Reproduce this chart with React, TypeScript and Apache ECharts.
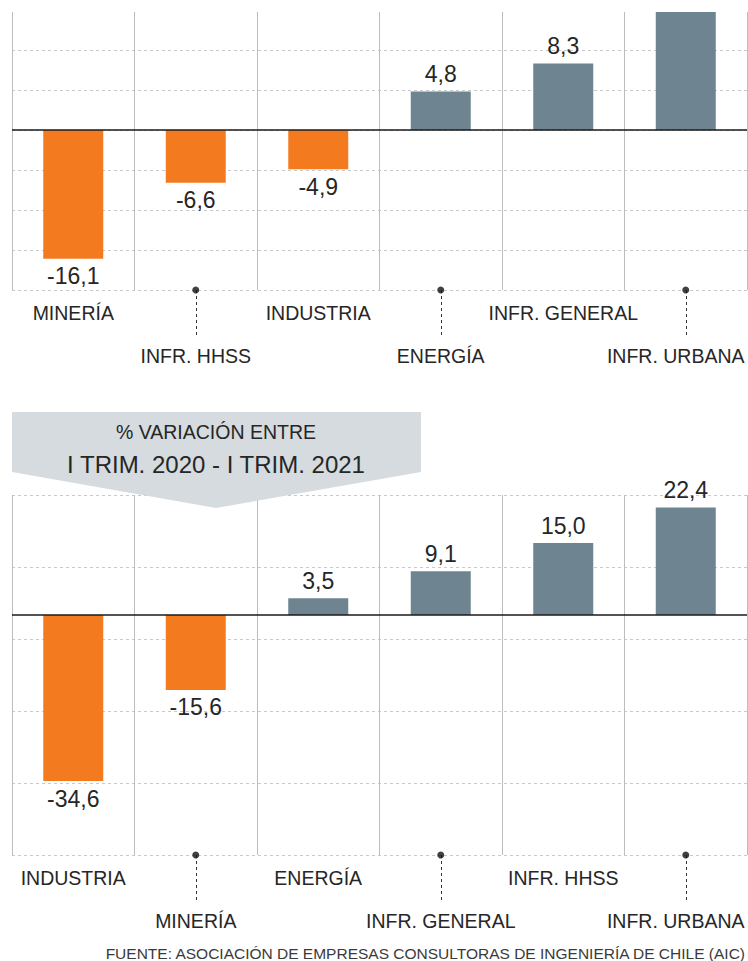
import React, { useEffect, useRef } from "react";
import * as echarts from "echarts";

const topCategories = ["MINERÍA", "INFR. HHSS", "INDUSTRIA", "ENERGÍA", "INFR. GENERAL", "INFR. URBANA"];
const topValues = [-16.1, -6.6, -4.9, 4.8, 8.3, 16.0];
const bottomCategories = ["INDUSTRIA", "MINERÍA", "ENERGÍA", "INFR. GENERAL", "INFR. HHSS", "INFR. URBANA"];
const bottomValues = [-34.6, -15.6, 3.5, 9.1, 15.0, 22.4];

const titleLine1 = "% VARIACIÓN ENTRE";
const titleLine2 = "I TRIM. 2020 - I TRIM. 2021";
const sourceText = "FUENTE: ASOCIACIÓN DE EMPRESAS CONSULTORAS DE INGENIERÍA DE CHILE (AIC)";

const TOP_MIN = -20;
const TOP_MAX = 14.75;
const BOT_MIN = -50;
const BOT_MAX = 25;

const ORANGE = "#F47A20";
const SLATE = "#6E8591";
const FONT = "'Liberation Sans', Arial, sans-serif";
const TEXT = "#262626";

function fmt(v: number) {
  return v.toFixed(1).replace(".", ",");
}

function barData(values: number[], max: number) {
  return values.map((v) => ({
    value: v,
    itemStyle: { color: v < 0 ? ORANGE : SLATE },
    label: { position: v < 0 ? "bottom" : "top", show: v <= max },
  }));
}

const catText = { fontSize: 19.5, fontFamily: FONT, color: TEXT, lineHeight: 22 };

function xAxisCfg(gridIndex: number, cats: string[]) {
  const last = cats.length - 1;
  return {
    type: "category",
    gridIndex,
    data: cats,
    boundaryGap: true,
    position: "bottom",
    axisLine: { show: false, onZero: false },
    axisTick: {
      show: true,
      alignWithLabel: true,
      interval: (i: number) => i % 2 === 1,
      length: 46,
      lineStyle: { type: [3, 3], color: "#333", width: 1 },
    },
    axisLabel: {
      interval: 0,
      margin: 12,
      ...catText,
      hideOverlap: false,
      formatter: (v: string, i: number) => {
        if (i === last) return "{c|" + v + "}";
        return i % 2 === 1 ? "{b|" + v + "}" : "{a|" + v + "}";
      },
      rich: {
        a: { ...catText },
        b: { ...catText, padding: [86, 0, 0, 0] },
        c: { ...catText, padding: [86, 20, 0, 0] },
      },
    },
    splitLine: { show: true, interval: 0, lineStyle: { color: "#bdbdbd", width: 1, type: "solid" } },
  };
}

const gridLineColor = "#c9c9c9";

export default function App() {
  const ref = useRef<HTMLDivElement>(null);
  useEffect(() => {
    if (!ref.current) return;
    const chart = echarts.init(ref.current, null, { renderer: "svg" });
    const labelCfg = {
      show: true,
      fontSize: 23,
      fontFamily: FONT,
      color: TEXT,
      distance: 6,
      formatter: (p: any) => fmt(p.value),
    };
    const zeroLine = {
      silent: true,
      symbol: ["none", "none"],
      label: { show: false },
      lineStyle: { color: "#1a1a1a", width: 1.5, type: "solid" },
      data: [{ yAxis: 0 }],
    };
    chart.setOption({
      animation: false,
      backgroundColor: "#ffffff",
      grid: [
        { left: 12, top: 12, width: 735, height: 278, outerBoundsMode: "none", containLabel: false },
        { left: 12, top: 495, width: 735, height: 360, outerBoundsMode: "none", containLabel: false },
      ],
      xAxis: [xAxisCfg(0, topCategories), xAxisCfg(1, bottomCategories)],
      yAxis: [
        {
          type: "value",
          gridIndex: 0,
          min: TOP_MIN,
          max: TOP_MAX,
          interval: 5,
          axisLabel: { show: false },
          axisLine: { show: false },
          axisTick: { show: false },
          splitLine: {
            show: true,
            showMaxLine: false,
            lineStyle: {
              type: [3, 3],
              color: [gridLineColor, gridLineColor, gridLineColor, gridLineColor, gridLineColor, gridLineColor, gridLineColor, "rgba(0,0,0,0)"],
            },
          },
        },
        {
          type: "value",
          gridIndex: 1,
          min: BOT_MIN,
          max: BOT_MAX,
          axisLabel: { show: false },
          axisLine: { show: false },
          axisTick: { show: false },
          splitLine: { show: false },
        },
        {
          type: "value",
          gridIndex: 1,
          min: 0,
          max: BOT_MAX - BOT_MIN,
          interval: 15,
          position: "left",
          axisLabel: { show: false },
          axisLine: { show: false },
          axisTick: { show: false },
          splitLine: { show: true, lineStyle: { type: [3, 3], color: gridLineColor } },
        },
      ],
      series: [
        {
          type: "bar",
          xAxisIndex: 0,
          yAxisIndex: 0,
          barWidth: 60,
          data: barData(topValues, TOP_MAX),
          label: labelCfg,
          markLine: zeroLine,
          z: 3,
        },
        {
          type: "bar",
          xAxisIndex: 1,
          yAxisIndex: 1,
          barWidth: 60,
          data: barData(bottomValues, BOT_MAX),
          label: labelCfg,
          markLine: zeroLine,
          z: 3,
        },
        {
          type: "scatter",
          xAxisIndex: 0,
          yAxisIndex: 0,
          symbol: "circle",
          symbolSize: 7,
          clip: false,
          itemStyle: { color: "#111" },
          data: topCategories.map((c, i) => [i, TOP_MIN]).filter((d) => (d[0] as number) % 2 === 1),
          z: 5,
        },
        {
          type: "scatter",
          xAxisIndex: 1,
          yAxisIndex: 1,
          symbol: "circle",
          symbolSize: 7,
          clip: false,
          itemStyle: { color: "#111" },
          data: bottomCategories.map((c, i) => [i, BOT_MIN]).filter((d) => (d[0] as number) % 2 === 1),
          z: 5,
        },
      ],
      graphic: [
        {
          type: "polygon",
          z: 100,
          shape: { points: [[12, 412], [421, 412], [421, 472], [216, 508], [12, 472]] },
          style: { fill: "#d5dbde" },
        },
        {
          type: "text",
          z: 101,
          x: 216,
          y: 432,
          style: { text: titleLine1, fontSize: 19.5, fontFamily: FONT, fill: TEXT, textAlign: "center", textVerticalAlign: "middle" },
        },
        {
          type: "text",
          z: 101,
          x: 216,
          y: 464,
          style: { text: titleLine2, fontSize: 24, fontFamily: FONT, fill: TEXT, textAlign: "center", textVerticalAlign: "middle" },
        },
        {
          type: "text",
          z: 101,
          x: 745,
          y: 953,
          style: { text: sourceText, fontSize: 15.5, fontFamily: FONT, fill: "#3a3a3a", textAlign: "right", textVerticalAlign: "middle" },
        },
      ],
    });
    return () => chart.dispose();
  }, []);
  return (
    <div
      ref={ref}
      style={{ position: "absolute", left: 0, top: 0, width: 748, height: 961, background: "#fff" }}
    />
  );
}
